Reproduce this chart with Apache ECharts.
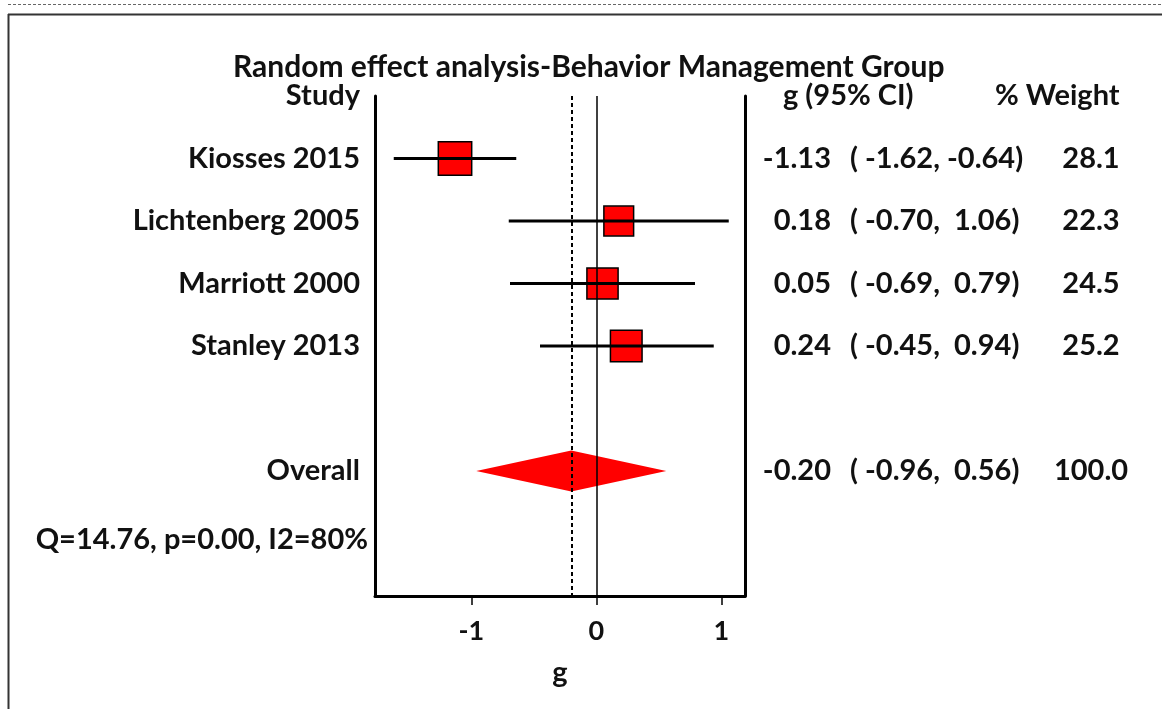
<!DOCTYPE html>
<html>
<head>
<meta charset="utf-8">
<script src="https://cdn.jsdelivr.net/npm/echarts@6/dist/echarts.min.js"></script>
<style>
  html, body { margin: 0; padding: 0; background: #fff; }
  #forest { width: 1162px; height: 709px; }
</style>
</head>
<body>
<div id="forest"></div>
<script>
// study level data
var studies = ['Kiosses 2015', 'Lichtenberg 2005', 'Marriott 2000', 'Stanley 2013'];
var effects = [-1.13, 0.18, 0.05, 0.24];
var ciLow = [-1.62, -0.70, -0.69, -0.45];
var ciHigh = [-0.64, 1.06, 0.79, 0.94];
var weights = [28.1, 22.3, 24.5, 25.2];

// pooled estimate
var overallLabel = 'Overall';
var overallEffect = -0.20;
var overallLow = -0.96;
var overallHigh = 0.56;
var overallWeight = 100.0;

var statsText = 'Q=14.76, p=0.00, I2=80%';
var xTicks = [-1, 0, 1];

var FONT = 'Lato';
var TXT = '#111';

// row index on the y axis
var studyRows = studies.map(function(s, i) { return i; });
var overallRow = 5;
var statsRow = 6.1;

function fmt(v) {
    return v.toFixed(2);
}
function ciText(lo, hi) {
    var a = fmt(lo), b = fmt(hi);
    if (lo >= 0) a = ' ' + a;
    if (hi >= 0) b = ' ' + b;
    return '( ' + a + ', ' + b + ')';
}

var rowLabels = {};
rowLabels[-1] = 'Study';
studies.forEach(function(s, i) { rowLabels[studyRows[i]] = s; });
rowLabels[overallRow] = overallLabel;

var xMin = -1.77, xMax = 1.19;

// squares
var squareData = effects.map(function(g, i) {
    return { value: [g, studyRows[i]], symbolSize: Math.sqrt(weights[i]) * 6.3 };
});

// CI whiskers
var ciData = effects.map(function(g, i) {
    return [ciLow[i], ciHigh[i], studyRows[i]];
});

// right hand table (x in px from the right panel's left edge)
var COL_G = 86, COL_CI = 105, COL_W = 346;
var tableG = [], tableCI = [], tableW = [];
effects.forEach(function(g, i) {
    tableG.push([COL_G, studyRows[i], fmt(g)]);
    tableCI.push([COL_CI, studyRows[i], ciText(ciLow[i], ciHigh[i])]);
    tableW.push([COL_W, studyRows[i], weights[i].toFixed(1)]);
});
tableG.push([COL_G, overallRow, fmt(overallEffect)]);
tableCI.push([COL_CI, overallRow, ciText(overallLow, overallHigh)]);
tableW.push([COL_W, overallRow, overallWeight.toFixed(1)]);
var tableHead = [[38, -1, 'g (95% CI)'], [250, -1, '% Weight']];

var labelFont = { fontFamily: FONT, fontWeight: 'bold', fontSize: 29, color: TXT };

function textSeries(data, position, xIdx, yIdx, distance) {
    return {
        type: 'scatter',
        xAxisIndex: xIdx,
        yAxisIndex: yIdx,
        symbolSize: 0,
        silent: true,
        z: 5,
        data: data,
        itemStyle: { opacity: 1 },
        label: Object.assign({
            show: true,
            position: position,
            distance: distance || 0,
            formatter: function(p) { return p.data[2]; }
        }, labelFont)
    };
}

var myChart = echarts.init(document.getElementById('forest'));

var option = {
    backgroundColor: '#fff',
    animation: false,
    title: {
        text: 'Random effect analysis-Behavior Management Group',
        left: 228,
        top: 47,
        textStyle: { fontFamily: FONT, fontWeight: 'bold', fontSize: 30, color: TXT }
    },
    graphic: [
        { type: 'line', shape: { x1: 8, y1: 4.5, x2: 1162, y2: 4.5 }, style: { stroke: '#666', lineWidth: 1, lineDash: [3, 2] } },
        { type: 'line', shape: { x1: 8, y1: 14.5, x2: 1162, y2: 14.5 }, style: { stroke: '#333', lineWidth: 2 } },
        { type: 'line', shape: { x1: 8.5, y1: 14, x2: 8.5, y2: 709 }, style: { stroke: '#333', lineWidth: 2 } }
    ],
    grid: [
        { left: 375, width: 370, top: 96, height: 500 },
        { left: 745, width: 417, top: 96, height: 500 }
    ],
    xAxis: [
        {
            type: 'value',
            min: xMin,
            max: xMax,
            splitLine: { show: false },
            axisLine: { show: true, onZero: false, lineStyle: { color: '#000', width: 3 } },
            axisTick: { show: true, customValues: xTicks, length: 9, lineStyle: { color: '#000', width: 1.5 } },
            axisLabel: {
                customValues: xTicks,
                margin: 22,
                fontFamily: FONT, fontWeight: 'bold', fontSize: 27, color: TXT,
                formatter: function(v) { return String(v); }
            },
            name: 'g',
            nameLocation: 'middle',
            nameGap: 62,
            nameTextStyle: { fontFamily: FONT, fontWeight: 'bold', fontSize: 29, color: TXT }
        },
        { type: 'value', gridIndex: 1, min: 0, max: 417, show: false }
    ],
    yAxis: [
        {
            type: 'value',
            inverse: true,
            min: -1,
            max: 7,
            interval: 1,
            splitLine: { show: false },
            axisLine: { show: true, onZero: false, lineStyle: { color: '#000', width: 3 } },
            axisTick: { show: false },
            axisLabel: Object.assign({
                margin: 15,
                showMinLabel: true,
                showMaxLabel: true,
                formatter: function(v) { return rowLabels[v] || ''; }
            }, labelFont)
        },
        {
            type: 'value',
            inverse: true,
            min: -1,
            max: 7,
            position: 'right',
            splitLine: { show: false },
            axisLine: { show: true, onZero: false, lineStyle: { color: '#000', width: 3 } },
            axisTick: { show: false },
            axisLabel: { show: false }
        },
        { type: 'value', gridIndex: 1, inverse: true, min: -1, max: 7, show: false }
    ],
    series: [
        {
            // dotted pooled-estimate line
            type: 'scatter',
            data: [],
            z: 1,
            markLine: {
                silent: true,
                symbol: 'none',
                label: { show: false },
                lineStyle: { color: '#000', width: 2, type: [4, 3] },
                data: [{ xAxis: overallEffect }]
            }
        },
        {
            // pooled diamond
            type: 'custom',
            z: 2,
            data: [[overallEffect, overallLow, overallHigh, overallRow]],
            renderItem: function(params, api) {
                var c = api.coord([api.value(0), api.value(3)]);
                var l = api.coord([api.value(1), api.value(3)]);
                var r = api.coord([api.value(2), api.value(3)]);
                var h = 20.5;
                return {
                    type: 'polygon',
                    shape: { points: [[l[0], l[1]], [c[0], c[1] - h], [r[0], r[1]], [c[0], c[1] + h]] },
                    style: { fill: '#ff0000' }
                };
            }
        },
        {
            type: 'scatter',
            symbol: 'rect',
            z: 3,
            data: squareData,
            itemStyle: { color: '#ff0000', borderColor: '#000', borderWidth: 1.5, opacity: 1 }
        },
        {
            type: 'custom',
            z: 4,
            data: ciData,
            renderItem: function(params, api) {
                var a = api.coord([api.value(0), api.value(2)]);
                var b = api.coord([api.value(1), api.value(2)]);
                return {
                    type: 'line',
                    shape: { x1: a[0], y1: a[1], x2: b[0], y2: b[1] },
                    style: { stroke: '#000', lineWidth: 3 }
                };
            },
            markLine: {
                silent: true,
                symbol: 'none',
                label: { show: false },
                lineStyle: { color: '#000', width: 1.5, type: 'solid' },
                data: [{ xAxis: 0 }]
            }
        },
        // heterogeneity line under the labels
        textSeries([[xMin, statsRow, statsText]], 'left', 0, 0, 7),
        textSeries(tableG, 'left', 1, 2),
        textSeries(tableCI, 'right', 1, 2),
        textSeries(tableW, 'inside', 1, 2),
        textSeries(tableHead, 'right', 1, 2)
    ]
};

myChart.setOption(option);
</script>
</body>
</html>
